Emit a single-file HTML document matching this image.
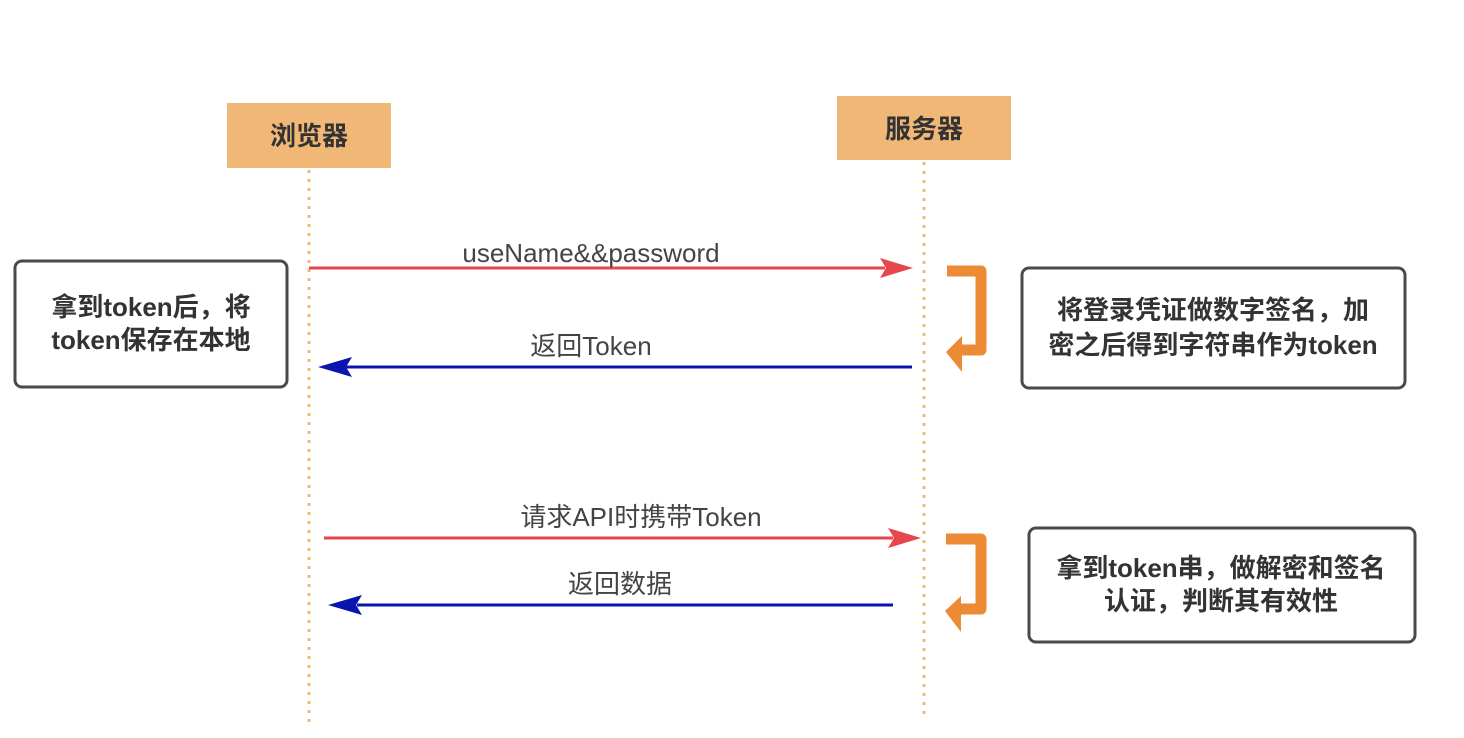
<!DOCTYPE html>
<html><head><meta charset="utf-8"><style>
html,body{margin:0;padding:0;background:#fff;}
svg{display:block;}
text{font-family:"Liberation Sans","Noto Sans CJK SC",sans-serif;fill:#3a3a3a;}
.h{font-weight:bold;font-size:26px;fill:#333;}
.b{font-weight:bold;font-size:26px;fill:#333;}
.l{font-size:26px;fill:#444;}
</style></head><body>
<svg width="1464" height="738" viewBox="0 0 1464 738" xmlns="http://www.w3.org/2000/svg">
<rect x="227" y="103" width="164" height="65" fill="#f0b777"/>
<text x="309" y="145" text-anchor="middle" class="h">浏览器</text>
<rect x="837" y="96" width="174" height="64" fill="#f0b777"/>
<text x="924" y="138" text-anchor="middle" class="h">服务器</text>
<line x1="309" y1="170" x2="309" y2="728" stroke="#f0b777" stroke-width="3" stroke-dasharray="3,6"/>
<line x1="924" y1="162" x2="924" y2="720" stroke="#f0b777" stroke-width="3" stroke-dasharray="3,6"/>

<line x1="309" y1="268" x2="885" y2="268" stroke="#e5474d" stroke-width="3"/>
<polygon points="913,268 880,258 886,268 880,278" fill="#e5474d"/>
<text x="591" y="262" text-anchor="middle" class="l">useName&amp;&amp;password</text>

<line x1="912" y1="367" x2="345" y2="367" stroke="#0a14b0" stroke-width="3"/>
<polygon points="318,367 352,357 346,367 352,377" fill="#0a14b0"/>
<text x="591" y="355" text-anchor="middle" class="l">返回Token</text>

<line x1="324" y1="538" x2="893" y2="538" stroke="#e5474d" stroke-width="3"/>
<polygon points="921,538 888,528 894,538 888,548" fill="#e5474d"/>
<text x="641" y="526" text-anchor="middle" class="l">请求API时携带Token</text>

<line x1="893" y1="605" x2="357" y2="605" stroke="#0a14b0" stroke-width="3"/>
<polygon points="328,605 362,595 356,605 362,615" fill="#0a14b0"/>
<text x="620" y="593" text-anchor="middle" class="l">返回数据</text>

<rect x="15" y="261" width="272" height="126" rx="7" fill="#fff" stroke="#4a4a4a" stroke-width="3"/>
<text x="151" y="316" text-anchor="middle" class="b">拿到token后，将</text>
<text x="151" y="349" text-anchor="middle" class="b">token保存在本地</text>

<rect x="1022" y="268" width="383" height="120" rx="7" fill="#fff" stroke="#4a4a4a" stroke-width="3"/>
<text x="1213" y="319" text-anchor="middle" class="b">将登录凭证做数字签名，加</text>
<text x="1213" y="354" text-anchor="middle" class="b">密之后得到字符串作为token</text>

<rect x="1029" y="528" width="386" height="114" rx="7" fill="#fff" stroke="#4a4a4a" stroke-width="3"/>
<text x="1221" y="577" text-anchor="middle" class="b">拿到token串，做解密和签名</text>
<text x="1221" y="610" text-anchor="middle" class="b">认证，判断其有效性</text>

<path d="M947,271 H981 V350 H958" fill="none" stroke="#ec8a35" stroke-width="11" stroke-linejoin="round"/>
<polygon points="946,352 962,336 962,372" fill="#ec8a35"/>
<path d="M946,539 H981 V609 H958" fill="none" stroke="#ec8a35" stroke-width="11" stroke-linejoin="round"/>
<polygon points="945,611 961,596 961,632" fill="#ec8a35"/>
</svg>
</body></html>
